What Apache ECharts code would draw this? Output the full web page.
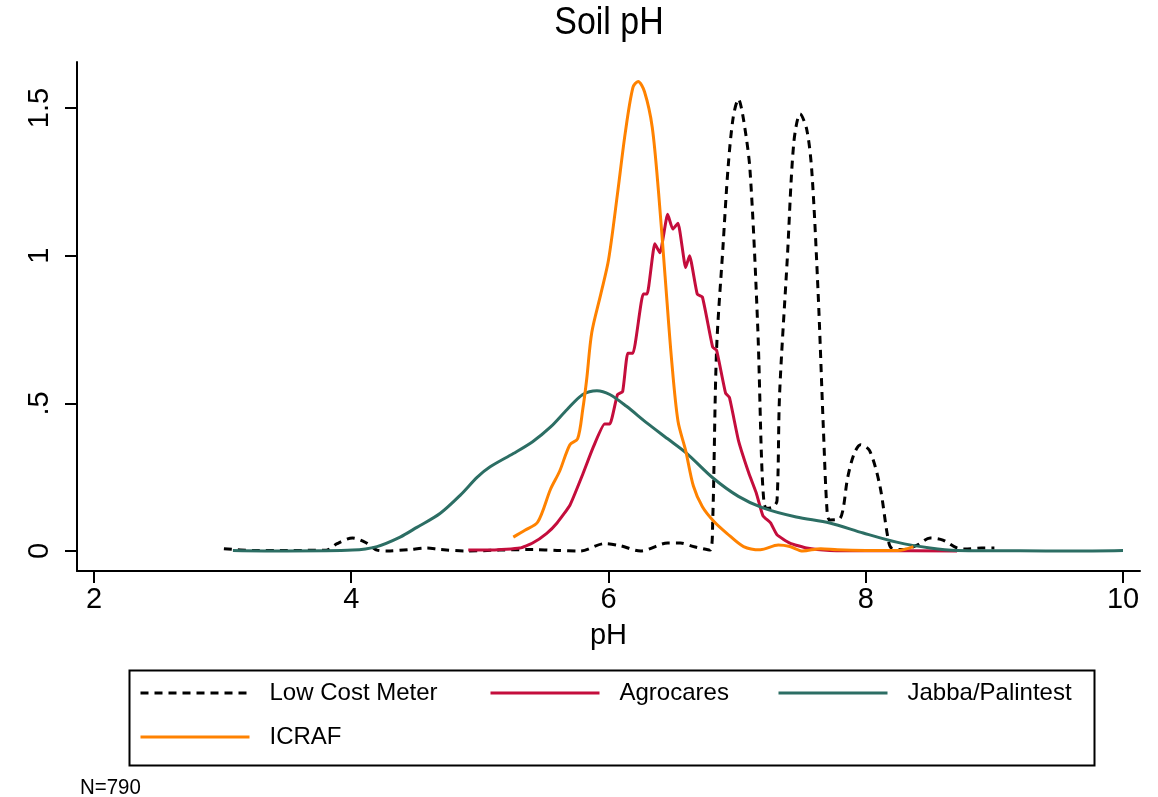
<!DOCTYPE html>
<html>
<head>
<meta charset="utf-8">
<script src="https://cdn.jsdelivr.net/npm/echarts@6/dist/echarts.min.js"></script>
<style>
html,body{margin:0;padding:0;background:#fff;}
#chart{width:1158px;height:797px;}
</style>
</head>
<body>
<div id="chart"></div>
<script>
// ---- data ----
const seriesNames = ['Low Cost Meter', 'Agrocares', 'Jabba/Palintest', 'ICRAF'];

const lowCostX = [3.01,3.24,3.5,3.81,3.89,4.01,4.12,4.2,4.28,4.45,4.59,4.69,4.9,5.15,5.41,5.6,5.78,5.97,6.09,6.25,6.46,6.56,6.66,6.79,
  6.81,6.84,6.89,6.93,6.97,7.01,7.05,7.10,7.16,7.19,7.21,7.23,7.28,7.31,7.33,7.39,7.44,7.49,7.54,7.58,7.63,7.67,7.70,7.72,7.80,
  7.86,7.91,7.96,8.03,8.11,8.17,8.20,8.30,8.40,8.50,8.60,8.71,8.79,8.90,9.00];
const lowCostY = [0.008,0.002,0.002,0.003,0.025,0.044,0.027,0.003,0.0,0.005,0.01,0.005,0.0,0.003,0.005,0.002,0.0,0.025,0.018,0.0,0.027,0.027,0.015,0.003,
  0.1,0.68,1.03,1.30,1.47,1.53,1.46,1.29,0.76,0.31,0.16,0.145,0.15,0.17,0.53,0.99,1.38,1.48,1.43,1.29,0.87,0.42,0.13,0.105,0.11,
  0.25,0.33,0.36,0.34,0.22,0.05,0.01,0.005,0.02,0.044,0.037,0.01,0.007,0.01,0.01];

const agroX = [4.91,5.1,5.31,5.41,5.52,5.60,5.70,5.80,5.88,5.97,6.01,6.07,6.11,6.15,6.19,6.27,6.30,6.36,6.40,6.46,6.50,6.54,6.60,6.63,
  6.69,6.73,6.81,6.84,6.91,6.94,7.01,7.09,7.15,7.20,7.26,7.31,7.41,7.54,7.72,8.0,8.71];
const agroY = [0.003,0.003,0.01,0.027,0.06,0.095,0.155,0.26,0.35,0.43,0.43,0.53,0.54,0.67,0.67,0.87,0.87,1.04,1.01,1.14,1.09,1.11,0.96,1.0,
  0.87,0.86,0.69,0.68,0.535,0.52,0.375,0.265,0.195,0.12,0.095,0.055,0.027,0.01,0.002,0.001,0.0];

const jabbaX = [3.08,3.5,4.01,4.20,4.38,4.51,4.69,4.85,4.98,5.08,5.26,5.41,5.55,5.68,5.80,5.91,6.01,6.14,6.30,6.46,6.61,6.81,7.01,
  7.20,7.46,7.72,7.98,8.24,8.50,8.71,9.2,9.6,10.0];
const jabbaY = [0.002,0.0,0.003,0.015,0.047,0.08,0.127,0.19,0.25,0.285,0.33,0.37,0.42,0.48,0.53,0.543,0.53,0.49,0.433,0.38,0.33,0.248,0.185,
  0.146,0.115,0.095,0.061,0.03,0.01,0.002,0.001,0.0,0.002];

const icrafX = [5.26,5.35,5.45,5.55,5.62,5.70,5.76,5.80,5.83,5.87,5.94,6.00,6.07,6.13,6.19,6.23,6.28,6.34,6.39,6.44,6.49,6.54,6.60,
  6.66,6.73,6.82,6.92,7.05,7.18,7.32,7.41,7.51,7.65,7.78,8.0,8.25,8.37];
const icrafY = [0.047,0.07,0.098,0.21,0.27,0.36,0.38,0.48,0.58,0.74,0.87,0.985,1.21,1.415,1.57,1.59,1.555,1.435,1.21,0.93,0.65,0.44,0.34,
  0.22,0.15,0.10,0.06,0.015,0.004,0.02,0.015,0.0,0.008,0.004,0.002,0.002,0.015];

const xTicks = [2, 4, 6, 8, 10];
const yTicks = [0, 0.5, 1, 1.5];
const yTickLabels = ['0', '.5', '1', '1.5'];

const titleText = 'Soil pH';
const xTitle = 'pH';
const noteText = 'N=790';

// ---- chart ----
const FONT = '"Liberation Sans", Arial, sans-serif';
const colors = ['#000000', '#c40d3c', '#2c6e64', '#ff8200'];
const zip = (xs, ys) => xs.map((x, i) => [x, ys[i]]);
const dataSets = [zip(lowCostX, lowCostY), zip(agroX, agroY), zip(jabbaX, jabbaY), zip(icrafX, icrafY)];

const chart = echarts.init(document.getElementById('chart'), null, {renderer: 'canvas'});

const legendPos = [[139, 681], [489, 681], [777, 681], [139, 725]];

const option = {
  animation: false,
  backgroundColor: '#ffffff',
  grid: {left: 77, top: 62, right: 18, bottom: 226, containLabel: false},
  xAxis: {
    type: 'value', min: 1.868, max: 10.132,
    name: xTitle, nameLocation: 'middle', nameGap: 50,
    nameTextStyle: {fontFamily: FONT, fontSize: 29, color: '#000'},
    axisLine: {show: true, onZero: false, lineStyle: {color: '#000', width: 2}},
    axisTick: {show: true, length: 12, lineStyle: {color: '#000', width: 2}, customValues: xTicks},
    axisLabel: {show: true, margin: 14, fontFamily: FONT, fontSize: 29, color: '#000', customValues: xTicks},
    splitLine: {show: false}
  },
  yAxis: {
    type: 'value', min: -0.0677, max: 1.6558,
    axisLine: {show: true, onZero: false, lineStyle: {color: '#000', width: 2}},
    axisTick: {show: true, length: 12, lineStyle: {color: '#000', width: 2}, customValues: yTicks},
    axisLabel: {show: true, margin: 23, rotate: 90, fontFamily: FONT, fontSize: 29, color: '#000', customValues: yTicks,
      formatter: v => { const i = yTicks.findIndex(t => Math.abs(t - v) < 1e-6); return i >= 0 ? yTickLabels[i] : ''; }},
    splitLine: {show: false}
  },
  legend: seriesNames.map((n, i) => ({
    data: [n], left: legendPos[i][0], top: legendPos[i][1], orient: 'horizontal',
    itemWidth: 109, itemHeight: 14, padding: 0,
    itemStyle: {opacity: 0},
    lineStyle: {width: 3},
    textStyle: {fontFamily: FONT, fontSize: 24, color: '#000', padding: [0, 0, 0, 15]},
    selectedMode: false
  })),
  graphic: [
    {type: 'rect', left: 127, top: 668, shape: {width: 965, height: 95},
      style: {fill: 'none', stroke: '#000', lineWidth: 2}, silent: true},
    {type: 'text', x: 609, y: 4, scaleX: 0.87, style: {text: titleText, fontFamily: FONT, fontSize: 39, fill: '#000', textAlign: 'center', textVerticalAlign: 'top'}},
    {type: 'text', x: 80, y: 777, scaleX: 0.93, style: {text: noteText, fontFamily: FONT, fontSize: 22, fill: '#000', textAlign: 'left', textVerticalAlign: 'top'}}
  ],
  series: seriesNames.map((n, i) => ({
    name: n, type: 'line', data: dataSets[i], showSymbol: false, symbol: 'none',
    smooth: i === 1 ? 0.15 : 0.3,
    lineStyle: {color: colors[i], width: 3, type: i === 0 ? [8, 6] : 'solid'},
    itemStyle: {color: colors[i]},
    z: 2 + i
  }))
};
chart.setOption(option);
</script>
</body>
</html>
